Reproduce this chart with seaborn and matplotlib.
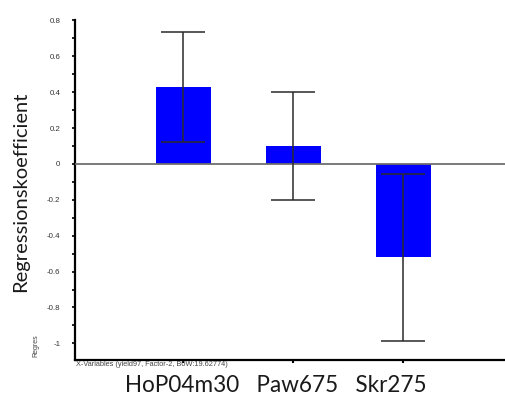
import matplotlib
matplotlib.use("Agg")
import matplotlib.pyplot as plt
import seaborn as sns
import pandas as pd
import numpy as np

categories = ["HoP04m30", "Paw675", "Skr275"]
coefficients = [0.43, 0.10, -0.52]
errors = [0.305, 0.30, 0.465]
yticks = [0.8, 0.6, 0.4, 0.2, 0, -0.2, -0.4, -0.6, -0.8, -1]
ytick_labels = ["0.8", "0.6", "0.4", "0.2", "0", "-0.2", "-0.4", "-0.6", "-0.8", "-1"]

sns.set_style("white")
plt.rcParams['font.family'] = ['Liberation Sans', 'DejaVu Sans']

df = pd.DataFrame({"var": categories, "coef": coefficients, "err": errors})

fig = plt.figure(figsize=(5.05, 4.03), dpi=100)
ax = fig.add_axes([75/505, 1 - 359.5/403, 430/505, (359.5 - 19.5)/403])

sns.barplot(data=df, x="var", y="coef", order=categories, color="#0000FF",
            saturation=1, width=0.5, errorbar=None, ax=ax, zorder=2, linewidth=0)
ax.axhline(0, color="#6e6e6e", lw=1.3, zorder=3)
ax.errorbar(np.arange(len(categories)), df["coef"], yerr=df["err"], fmt="none",
            ecolor="#2a2a2a", elinewidth=1.1, capsize=15.5, capthick=1.1, zorder=4)

ax.set_xlim(-0.986, 2.923)
ax.set_ylim(-1.09, 0.805)
ax.set_yticks(yticks)
ax.set_yticklabels(ytick_labels, fontsize=5.7, color="#333333")
ax.set_yticks(np.arange(-1.0, 0.81, 0.1), minor=True)
ax.set_xticks(range(len(categories)))
ax.set_xticklabels([""] * len(categories))
ax.tick_params(axis="y", which="both", direction="out", length=2.5, width=1.2,
               color="black", left=True, pad=8)
ax.tick_params(axis="x", which="both", direction="out", length=2.5, width=1.5,
               color="black", bottom=True)
ax.set_xlabel("")
ax.set_ylabel("")
for s in ["top", "right"]:
    ax.spines[s].set_visible(False)
for s in ["left", "bottom"]:
    ax.spines[s].set_color("black")
    ax.spines[s].set_linewidth(1.6)

big_font = ["Lato", "DejaVu Sans"]
ylab = fig.text(21/505, 1 - 192/403, "Regressionskoefficient", rotation=90,
                ha="center", va="center", fontsize=13, family=big_font, color="#1a1a1a")
fig.text(36/505, 1 - 346/403, "Regres", rotation=90, ha="center", va="center",
         fontsize=5, color="#444444")
fig.text(76/505, 1 - 365/403, "X-Variables (yield97, Factor-2, B0W:19.62774)",
         ha="left", va="center", fontsize=5.3, color="#444444")
xlab = fig.text(276/505, 1 - 386/403, "   ".join(categories), ha="center", va="center",
                fontsize=13, family=big_font, color="#1a1a1a")

# fit text sizes to the reference extents
renderer = fig.canvas.get_renderer()
for t, target, dim in [(ylab, 200, "h"), (xlab, 302, "w")]:
    for _ in range(3):
        bb = t.get_window_extent(renderer)
        cur = bb.height if dim == "h" else bb.width
        t.set_fontsize(t.get_fontsize() * target / cur)

fig.savefig("out.png", dpi=100)
